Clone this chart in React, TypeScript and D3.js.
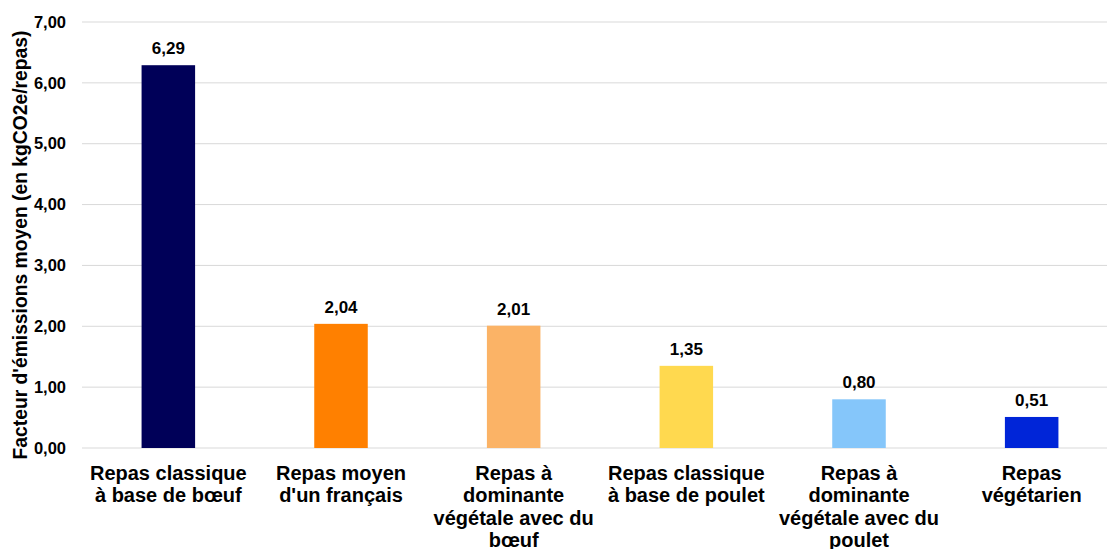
import React from "react";
import * as d3 from "d3";

const categories: string[][] = [
  ["Repas classique", "à base de bœuf"],
  ["Repas moyen", "d'un français"],
  ["Repas à", "dominante", "végétale avec du", "bœuf"],
  ["Repas classique", "à base de poulet"],
  ["Repas à", "dominante", "végétale avec du", "poulet"],
  ["Repas", "végétarien"],
];
const values: number[] = [6.29, 2.04, 2.01, 1.35, 0.8, 0.51];
const colors: string[] = ["#000058", "#FF8000", "#FBB366", "#FFD94F", "#85C6FA", "#0025D8"];
const yTicks: number[] = [0, 1, 2, 3, 4, 5, 6, 7];
const yTitle = "Facteur d'émissions moyen (en kgCO2e/repas)";

const W = 1107;
const H = 549;
const FONT = "'Liberation Sans', Arial, sans-serif";

export default function App() {
  const x = d3
    .scaleBand<number>()
    .domain(values.map((_, i) => i))
    .range([82, 1118])
    .paddingInner(0.69)
    .paddingOuter(0.345);
  const y = d3.scaleLinear().domain([0, 7]).range([448, 22]);
  const fmt = (v: number) => v.toFixed(2).replace(".", ",");

  return (
    <svg
      width={W}
      height={H}
      style={{ position: "absolute", left: 0, top: 0, display: "block", background: "#fff" }}
      fontFamily={FONT}
    >
      {yTicks.map((t) => (
        <g key={t}>
          <line x1={82} x2={W} y1={y(t)} y2={y(t)} stroke="#D9D9D9" strokeWidth={1} />
          <text x={66} y={y(t)} dy="0.35em" textAnchor="end" fontSize={16.5} fontWeight="bold" fill="#000">
            {fmt(t)}
          </text>
        </g>
      ))}
      <text
        transform={`translate(27,245) rotate(-90)`}
        textAnchor="middle"
        fontSize={19.3}
        fontWeight="bold"
        fill="#000"
      >
        {yTitle}
      </text>
      {values.map((v, i) => (
        <g key={i}>
          <rect x={x(i)} y={y(v)} width={x.bandwidth()} height={y(0) - y(v)} fill={colors[i]} />
          <text
            x={(x(i) as number) + x.bandwidth() / 2}
            y={y(v) - 11}
            textAnchor="middle"
            fontSize={17}
            fontWeight="bold"
            fill="#000"
          >
            {fmt(v)}
          </text>
          <text
            x={(x(i) as number) + x.bandwidth() / 2}
            y={480}
            textAnchor="middle"
            fontSize={20}
            fontWeight="bold"
            fill="#000"
          >
            {categories[i].map((line, j) => (
              <tspan key={j} x={(x(i) as number) + x.bandwidth() / 2} dy={j === 0 ? 0 : 22.3}>
                {line}
              </tspan>
            ))}
          </text>
        </g>
      ))}
    </svg>
  );
}
